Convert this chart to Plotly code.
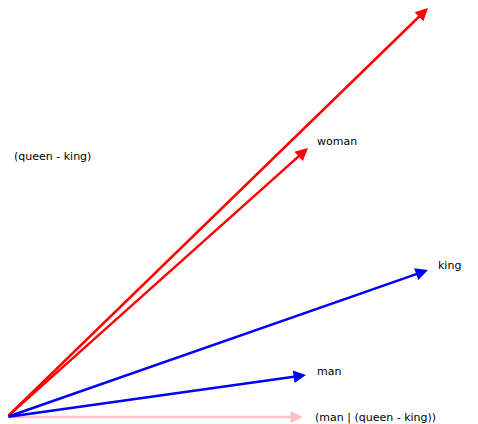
import plotly.graph_objects as go

# vectors (end points, origin at 0,0)
names = ["queen", "woman", "king", "man"]
xs = [421, 301, 421, 299]
ys = [409, 269, 147, 42]
colors = ["red", "red", "blue", "blue"]

# projection axes
axis_names = ["(queen - king)", "(man | (queen - king))"]
axis_x = [0, 296]
axis_y = [254, 0]

# label offsets from arrow tips
lab_dx = [4, 7, 8, 9]
lab_dy = [3, 7, 5, 4]
axis_dx = [5, 10]
axis_dy = [7, 0]

fig = go.Figure()
fig.add_trace(go.Scatter(x=[0], y=[0], mode="markers", marker=dict(opacity=0), showlegend=False, hoverinfo="skip"))

font = dict(family="DejaVu Sans", size=11, color="black")

for ex, ey, nm, dx, dy in zip(axis_x, axis_y, axis_names, axis_dx, axis_dy):
    fig.add_annotation(x=ex, y=ey, ax=0, ay=0, xref="x", yref="y", axref="x", ayref="y",
                       showarrow=True, arrowhead=2, arrowsize=1, arrowwidth=2.5,
                       arrowcolor="#ffc0cb", text="")
    fig.add_annotation(x=ex + dx, y=ey + dy, xref="x", yref="y", text=nm, showarrow=False,
                       xanchor="left", yanchor="middle", font=font)

for ex, ey, nm, c, dx, dy in zip(xs, ys, names, colors, lab_dx, lab_dy):
    fig.add_annotation(x=ex, y=ey, ax=0, ay=0, xref="x", yref="y", axref="x", ayref="y",
                       showarrow=True, arrowhead=2, arrowsize=1, arrowwidth=2.5,
                       arrowcolor=c, text="")
    fig.add_annotation(x=ex + dx, y=ey + dy, xref="x", yref="y", text=nm, showarrow=False,
                       xanchor="left", yanchor="middle", font=font)

# ranges shifted to compensate for the page's 8px body margin
fig.update_xaxes(range=[1, 479], visible=False)
fig.update_yaxes(range=[-15, 409], visible=False)
fig.update_layout(width=478, height=424, margin=dict(l=0, r=0, t=0, b=0),
                  plot_bgcolor="white", paper_bgcolor="white")
fig.write_html("out.html")
